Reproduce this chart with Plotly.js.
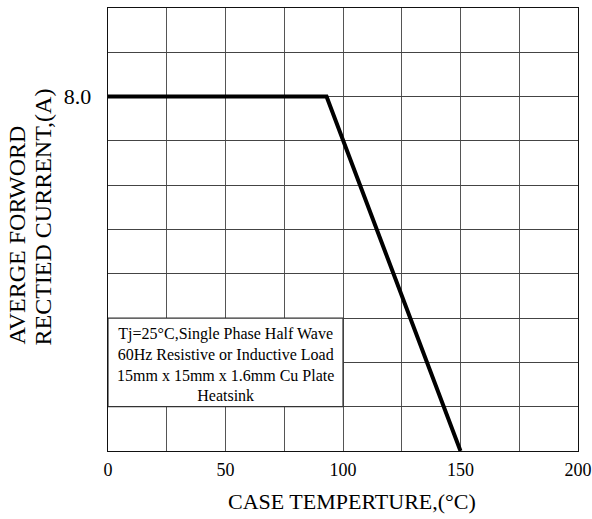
<!DOCTYPE html>
<html>
<head>
<meta charset="utf-8">
<script src="https://cdn.plot.ly/plotly-3.0.1.min.js"></script>
<style>html,body{margin:0;padding:0;background:#fff;}#chart{width:592px;height:519px;}</style>
</head>
<body>
<div id="chart"></div>
<script>
// Data
const caseTemp = [0, 93, 150];
const avgCurrent = [8.0, 8.0, 0];
const xTickVals = [0, 25, 50, 75, 100, 125, 150, 175, 200];
const xTickText = ['0', '', '50', '', '100', '', '150', '', '200'];
const yTickVals = [0, 1, 2, 3, 4, 5, 6, 7, 8, 9, 10];
const yTickText = ['', '', '', '', '', '', '', '', '8.0', '', ''];
const noteLines = ['Tj=25°C,Single Phase Half Wave', '60Hz Resistive or Inductive Load', '15mm x 15mm x 1.6mm Cu Plate', 'Heatsink'];
const noteBox = {x0: 0, x1: 100, y0: 1, y1: 3};
const yTitleLines = ['AVERGE FORWORD', 'RECTIED CURRENT,(A)'];
const xTitle = 'CASE TEMPERTURE,(°C)';

const serif = 'Liberation Serif, Times New Roman, serif';

const trace = {
  x: caseTemp, y: avgCurrent, type: 'scatter', mode: 'lines',
  line: {color: '#000', width: 4}, hoverinfo: 'skip', showlegend: false
};

const yTitleX = [-0.1936, -0.1383];

const layout = {
  width: 592, height: 519,
  margin: {l: 108, r: 14, t: 8, b: 68},
  paper_bgcolor: '#fff', plot_bgcolor: '#fff',
  font: {family: serif, color: '#000'},
  xaxis: {
    range: [0, 200], tickmode: 'array', tickvals: xTickVals, ticktext: xTickText,
    showgrid: true, gridcolor: '#555', gridwidth: 1,
    showline: true, mirror: true, linecolor: '#111', linewidth: 1.3,
    ticks: '', zeroline: false, ticklabelstandoff: 2, ticklabeloverflow: 'allow',
    tickfont: {family: serif, size: 18, color: '#000'}
  },
  yaxis: {
    range: [0, 10], tickmode: 'array', tickvals: yTickVals, ticktext: yTickText,
    showgrid: true, gridcolor: '#444', gridwidth: 1,
    showline: true, mirror: true, linecolor: '#111', linewidth: 1.3,
    ticks: '', zeroline: false, ticklabelstandoff: 11,
    tickfont: {family: serif, size: 22, color: '#000'}
  },
  shapes: [{
    type: 'rect', xref: 'x', yref: 'y', layer: 'between',
    x0: noteBox.x0, x1: noteBox.x1, y0: noteBox.y0, y1: noteBox.y1,
    fillcolor: '#fff', line: {color: '#333', width: 1.2}
  }],
  annotations: [
    {
      xref: 'x', yref: 'y', x: (noteBox.x0 + noteBox.x1) / 2, y: (noteBox.y0 + noteBox.y1) / 2,
      yshift: -2,
      text: noteLines.join('<br>'), showarrow: false, align: 'center',
      font: {family: serif, size: 16, color: '#000'}
    },
    {
      xref: 'paper', yref: 'paper', x: 0.519, y: -0.115, xanchor: 'center', yanchor: 'middle',
      text: xTitle, showarrow: false,
      font: {family: serif, size: 22, color: '#000'}
    }
  ].concat(yTitleLines.map((t, i) => ({
    xref: 'paper', yref: 'paper', x: yTitleX[i], y: 0.2348, xanchor: 'center', yanchor: 'bottom',
    text: t, showarrow: false, textangle: -90,
    font: {family: serif, size: 24, color: '#000'}
  })))
};

Plotly.newPlot('chart', [trace], layout, {staticPlot: true, displayModeBar: false});
</script>
</body>
</html>
